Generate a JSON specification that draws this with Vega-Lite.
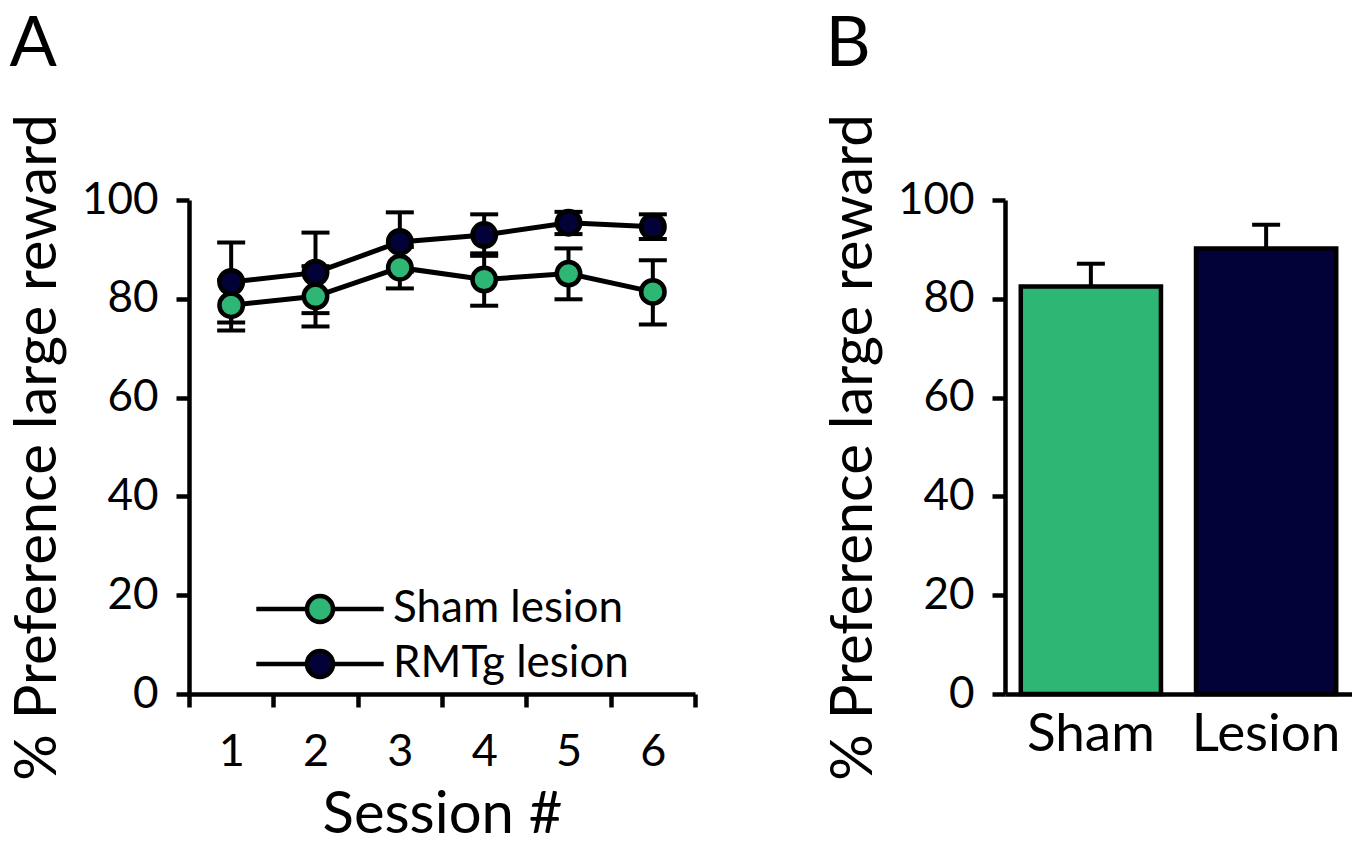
{
  "$schema": "https://vega.github.io/schema/vega-lite/v6.json",
  "background": "white",
  "padding": {"left": 9, "top": 9, "right": 0, "bottom": 0},
  "spacing": 87,
  "resolve": {"scale": {"x": "independent", "y": "independent", "fill": "independent"}},
  "config": {
    "font": "Lato",
    "view": {"stroke": null},
    "axis": {
      "domainColor": "black", "domainWidth": 4.5, "tickColor": "black", "tickWidth": 4.5, "tickSize": 13,
      "labelColor": "black", "titleColor": "black", "labelFont": "Lato", "titleFont": "Lato",
      "titleFontWeight": "normal", "grid": false, "labelFontSize": 44, "titleFontSize": 58
    },
    "axisY": {"labelPadding": 18, "titlePadding": 14},
    "title": {"anchor": "start", "frame": "bounds", "fontSize": 70, "fontWeight": "normal", "font": "Lato", "color": "black", "offset": 33}
  },
  "hconcat": [
    {
      "width": 506,
      "height": 494,
      "title": {"text": "A"},
      "data": {"values": [
        {"session": 1, "group": "Sham lesion", "mean": 78.7, "lo": 73.6, "hi": 83.8},
        {"session": 2, "group": "Sham lesion", "mean": 80.5, "lo": 74.4, "hi": 86.6},
        {"session": 3, "group": "Sham lesion", "mean": 86.3, "lo": 82.1, "hi": 90.5},
        {"session": 4, "group": "Sham lesion", "mean": 83.9, "lo": 78.6, "hi": 89.2},
        {"session": 5, "group": "Sham lesion", "mean": 85.1, "lo": 79.9, "hi": 90.2},
        {"session": 6, "group": "Sham lesion", "mean": 81.4, "lo": 74.8, "hi": 87.8},
        {"session": 1, "group": "RMTg lesion", "mean": 83.4, "lo": 75.2, "hi": 91.4},
        {"session": 2, "group": "RMTg lesion", "mean": 85.3, "lo": 77.1, "hi": 93.4},
        {"session": 3, "group": "RMTg lesion", "mean": 91.5, "lo": 85.5, "hi": 97.5},
        {"session": 4, "group": "RMTg lesion", "mean": 92.9, "lo": 88.7, "hi": 97.1},
        {"session": 5, "group": "RMTg lesion", "mean": 95.4, "lo": 93.1, "hi": 97.6},
        {"session": 6, "group": "RMTg lesion", "mean": 94.6, "lo": 92.1, "hi": 97.1}
      ]},
      "encoding": {
        "x": {
          "field": "session", "type": "quantitative",
          "scale": {"domain": [0.5, 6.5], "nice": false, "zero": false},
          "title": "Session #",
          "axis": {
            "values": [0.5, 1.5, 2.5, 3.5, 4.5, 5.5, 6.5],
            "labelExpr": "datum.value < 6 ? format(datum.value + 0.5, 'd') : ''",
            "labelOffset": 42.2, "labelFlush": false, "labelOverlap": false,
            "labelFontSize": 45, "labelPadding": 22, "titlePadding": 12
          }
        }
      },
      "layer": [
        {
          "mark": {"type": "rule", "color": "black", "strokeWidth": 4},
          "encoding": {
            "y": {"field": "lo", "type": "quantitative", "scale": {"domain": [0, 100], "nice": false}, "title": "% Preference large reward", "axis": {"values": [0, 20, 40, 60, 80, 100]}},
            "y2": {"field": "hi"}
          }
        },
        {
          "mark": {"type": "tick", "orient": "horizontal", "color": "black", "thickness": 4, "size": 28, "opacity": 1},
          "encoding": {"y": {"field": "lo", "type": "quantitative", "title": "% Preference large reward", "axis": {"values": [0, 20, 40, 60, 80, 100]}}}
        },
        {
          "mark": {"type": "tick", "orient": "horizontal", "color": "black", "thickness": 4, "size": 28, "opacity": 1},
          "encoding": {"y": {"field": "hi", "type": "quantitative", "title": "% Preference large reward", "axis": {"values": [0, 20, 40, 60, 80, 100]}}}
        },
        {
          "mark": {"type": "line", "color": "black", "strokeWidth": 5},
          "encoding": {
            "y": {"field": "mean", "type": "quantitative", "title": "% Preference large reward", "axis": {"values": [0, 20, 40, 60, 80, 100]}},
            "detail": {"field": "group"}
          }
        },
        {
          "mark": {"type": "point", "filled": true, "size": 550, "stroke": "black", "strokeWidth": 4.5, "opacity": 1},
          "encoding": {
            "y": {"field": "mean", "type": "quantitative", "title": "% Preference large reward", "axis": {"values": [0, 20, 40, 60, 80, 100]}},
            "fill": {
              "field": "group", "type": "nominal",
              "scale": {"domain": ["Sham lesion", "RMTg lesion"], "range": ["#2db674", "#020238"]},
              "legend": {
                "orient": "none", "legendX": 109, "legendY": 387, "title": null, "padding": 0,
                "symbolType": "M-4.9,0H-1M1,0H4.9M-1,0A1,1,0,1,1,1,0A1,1,0,1,1,-1,0Z",
                "symbolSize": 676, "symbolStrokeColor": "black", "symbolStrokeWidth": 4.5, "symbolOpacity": 1,
                "labelFontSize": 44, "labelOffset": 51, "labelLimit": 0, "rowPadding": 11, "labelColor": "black", "labelFont": "Lato"
              }
            }
          }
        }
      ]
    },
    {
      "width": 347,
      "height": 494,
      "title": {"text": "B"},
      "data": {"values": [
        {"group": "Sham", "mean": 82.5, "hi": 87.1},
        {"group": "Lesion", "mean": 90.2, "hi": 95.0}
      ]},
      "encoding": {
        "x": {
          "field": "group", "type": "nominal", "sort": ["Sham", "Lesion"],
          "scale": {"paddingInner": 0.2, "paddingOuter": 0.09},
          "axis": {"title": null, "ticks": false, "tickSize": 0, "labelAngle": 0, "labelFontSize": 53, "labelPadding": 14, "labelOverlap": false, "labelLimit": 0}
        }
      },
      "layer": [
        {
          "mark": {"type": "rule", "color": "black", "strokeWidth": 4},
          "encoding": {
            "y": {"field": "mean", "type": "quantitative", "scale": {"domain": [0, 100], "nice": false}, "title": "% Preference large reward", "axis": {"values": [0, 20, 40, 60, 80, 100]}},
            "y2": {"field": "hi"}
          }
        },
        {
          "mark": {"type": "tick", "orient": "horizontal", "color": "black", "thickness": 4, "size": 28, "opacity": 1},
          "encoding": {"y": {"field": "hi", "type": "quantitative", "title": "% Preference large reward", "axis": {"values": [0, 20, 40, 60, 80, 100]}}}
        },
        {
          "mark": {"type": "bar", "stroke": "black", "strokeWidth": 4.5},
          "encoding": {
            "y": {"field": "mean", "type": "quantitative", "title": "% Preference large reward", "axis": {"values": [0, 20, 40, 60, 80, 100]}},
            "fill": {
              "field": "group", "type": "nominal",
              "scale": {"domain": ["Sham", "Lesion"], "range": ["#2db674", "#020238"]},
              "legend": null
            }
          }
        }
      ]
    }
  ]
}
